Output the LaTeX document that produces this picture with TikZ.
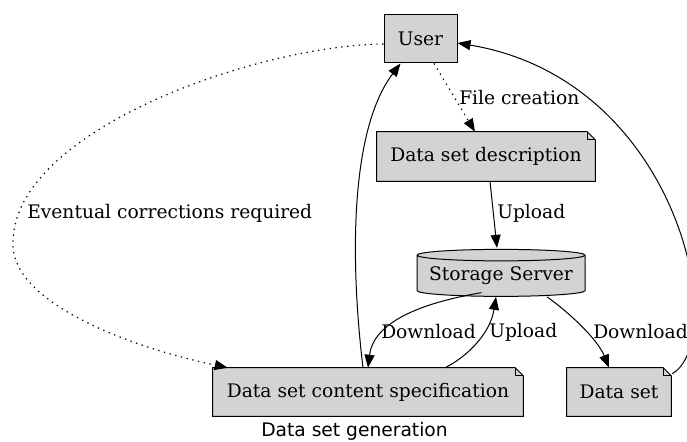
\documentclass[tikz,border=0pt]{standalone}
\usepackage{fontspec}
\setmainfont{DejaVu Serif}
\newfontfamily\capfont{DejaVu Sans}
\usetikzlibrary{arrows.meta,shapes.geometric,calc,backgrounds}
\definecolor{boxgray}{HTML}{D3D3D3}
\begin{document}
\begin{tikzpicture}[x=0.75pt,y=-0.75pt,
  font=\fontsize{14}{16}\selectfont,
  box/.style={draw, fill=boxgray, line width=0.75pt, inner sep=0pt, minimum height=36pt},
  notebox/.style={inner sep=0pt, minimum height=36pt},
  noteshape/.style={fill=boxgray, draw, line width=0.75pt, line join=miter},
  store/.style={shape=cylinder, shape border rotate=90, aspect=0.08, draw, fill=boxgray,
    line width=0.75pt, inner sep=0pt, minimum width=126pt, minimum height=35.25pt},
  flow/.style={line width=0.75pt, -{Triangle[length=9.75pt,width=7.5pt]}},
  dotflow/.style={flow, line width=0.9pt, dash pattern=on 1pt off 3.4pt},
  lbl/.style={anchor=west, inner sep=0pt}]
\useasboundingbox (0,0) rectangle (687,442);
\clip (0,0) rectangle (687,442);

% nodes
\node[box, minimum width=54.75pt] (user) at (420.5,39) {User};
\node[notebox, minimum width=163.5pt, minimum height=36.75pt] (desc) at (486,156.5) {Data set description};
\node[store] (server) at (501,276) {Storage Server};
\node[notebox, minimum width=232.5pt] (spec) at (368,392) {Data set content specification};
\node[notebox, minimum width=78pt] (dset) at (619,392) {Data set};
\node[inner sep=0pt, font=\capfont\fontsize{14}{16}\selectfont] (cap) at (354.5,431) {Data set generation};

% folded-corner note outlines behind the document nodes
\begin{scope}[on background layer]
  \foreach \n in {desc,spec,dset}{
    \draw[noteshape] (\n.south west) -- (\n.north west)
      -- ($(\n.north east)+(-8,0)$) -- ($(\n.north east)+(0,8)$)
      -- (\n.south east) -- cycle;
    \draw[line width=0.6pt] ($(\n.north east)+(-8,0)$) -- ++(0,8) -- ++(8,0);
  }
\end{scope}

% connectors
\draw[dotflow] ($(user.south)+(13.5,0)$) -- ($(desc.north)+(-11,0)$);
\node[lbl] at (459,98) {File creation};
\draw[flow] ($(desc.south)+(4,0)$) -- ($(server.north)+(-4,-1)$);
\node[lbl] at (497,213) {Upload};
\draw[flow] ($(server.south west)+(1,-4)$) .. controls (392,308) and (372,335) .. (spec.north);
\node[lbl] at (381,332) {Download};
\draw[flow] ($(spec.north)+(77,0)$) .. controls (465,358) and (490,335) .. ($(server.south)+(-5,0)$);
\node[lbl] at (489,332) {Upload};
\draw[flow] ($(server.south)+(46,0)$) .. controls (570,313) and (598,340) .. ($(dset.north)+(-10,0)$);
\node[lbl] at (593,332) {Download};
\draw[flow] ($(spec.north)+(-5,0)$) .. controls (350,260) and (350,130) .. ($(user.south)+(-20,0)$);
\draw[flow] ($(dset.north east)+(1,6)$) .. controls (730,340) and (680,80) .. ($(user.east)+(0,4)$);
\draw[dotflow] ($(user.west)+(0,5)$) .. controls (260,45) and (10,130) .. (13,245)
  .. controls (13,300) and (120,345) .. ($(spec.north west)+(15,0)$);
\node[lbl] at (27,213) {Eventual corrections required};
\end{tikzpicture}
\end{document}
